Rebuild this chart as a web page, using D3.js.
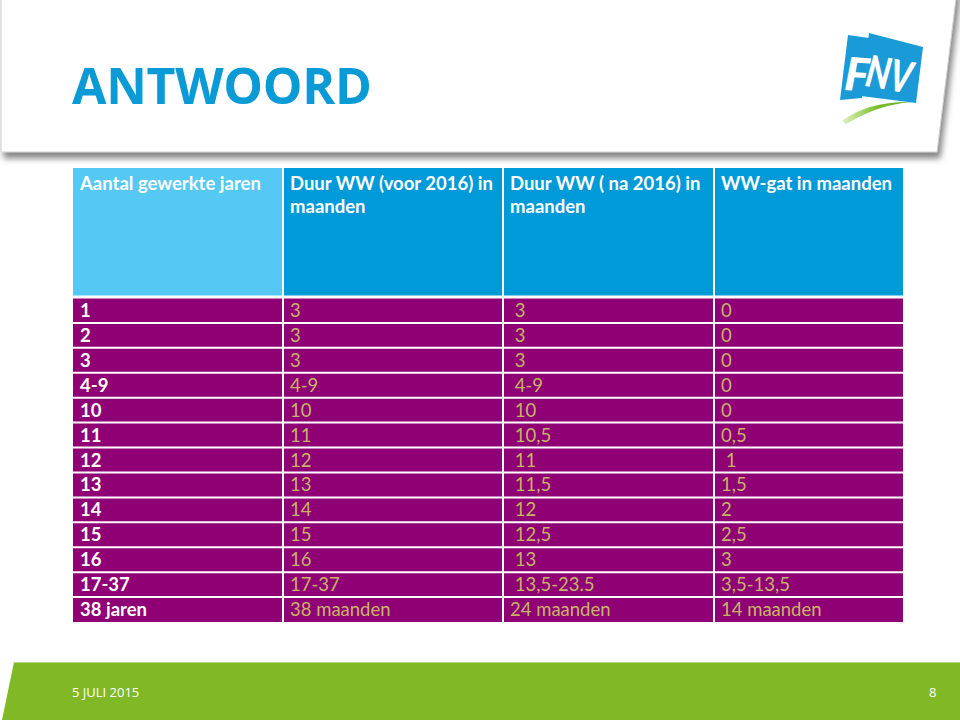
<!DOCTYPE html>
<html><head><meta charset="utf-8">
<script src="https://cdn.jsdelivr.net/npm/d3@7"></script>
<style>
html,body{margin:0;padding:0;background:#fff;}
svg{display:block;font-family:Lato,"Open Sans",sans-serif;}
</style></head>
<body>
<script>
// ---- data ----
const title = "ANTWOORD";
const headers = [
  ["Aantal gewerkte jaren"],
  ["Duur WW (voor 2016) in", "maanden"],
  ["Duur WW ( na 2016) in", "maanden"],
  ["WW-gat in maanden"]
];
const years   = ["1","2","3","4-9","10","11","12","13","14","15","16","17-37","38 jaren"];
const durBefore = ["3","3","3","4-9","10","11","12","13","14","15","16","17-37","38 maanden"];
const durAfter  = [" 3"," 3"," 3"," 4-9"," 10"," 10,5"," 11"," 11,5"," 12"," 12,5"," 13"," 13,5-23.5","24 maanden"];
const gap       = ["0","0","0","0","0","0,5"," 1","1,5","2","2,5","3","3,5-13,5","14 maanden"];
const footerDate = "5 JULI 2015";
const pageNum = "8";

const W = 960, H = 720;
const svg = d3.select("body").append("svg").attr("width", W).attr("height", H);
const defs = svg.append("defs");
const f = defs.append("filter").attr("id","sh").attr("x","-5%").attr("y","-10%").attr("width","115%").attr("height","130%");
f.append("feDropShadow").attr("dx",3).attr("dy",6).attr("stdDeviation",3).attr("flood-color","#666").attr("flood-opacity",0.8);

// top panel
svg.append("path").attr("d","M1,-10 L957,-10 L937,152 L1,152 Z")
  .attr("fill","#fff").attr("stroke","#d0d0d0").attr("stroke-width",1).attr("filter","url(#sh)");

svg.append("text").attr("x",72).attr("y",104).text(title)
  .attr("font-size",50).attr("font-weight",700).attr("fill","#0a9ad6")
  .attr("font-family","'Open Sans',Lato,sans-serif").attr("letter-spacing",-0.3);

// logo
const g = svg.append("g");
const sw = defs.append("linearGradient").attr("id","sw").attr("x1","0").attr("x2","1");
sw.append("stop").attr("offset","0").attr("stop-color","#e2f0c4");
sw.append("stop").attr("offset","0.5").attr("stop-color","#7cbf2a");
sw.append("stop").attr("offset","1").attr("stop-color","#5aa82a");
g.append("path").attr("d","M842,121 Q868,101 912,102 Q880,104 846,124 Z").attr("fill","url(#sw)");
g.append("path").attr("d","M848,35 L869,38 L862,98 L840,100 Z").attr("fill","#1b9ad8");
g.append("path").attr("d","M869,33 L923,47 L916,103 L861,96 Z").attr("fill","#1b9ad8");
g.append("text").attr("x",845).attr("y",91).text("F")
  .attr("font-size",46).attr("font-weight",900).attr("font-style","italic").attr("fill","#fff")
  .attr("transform","rotate(4,858,70) scale(1,1)");
g.append("text").attr("x",867).attr("y",90).text("NV")
  .attr("font-size",44).attr("font-weight",900).attr("font-style","italic").attr("fill","#fff")
  .attr("textLength",46).attr("lengthAdjust","spacingAndGlyphs")
  .attr("transform","rotate(10,890,70)");

// table
const colEdges = [73, 283, 503, 714, 903];
const colX = i => colEdges[i];
const colW = i => colEdges[i+1]-colEdges[i];
const headTop = 168, headBot = 296, rowTop = 298, rowBot = 622;
const y = d3.scaleBand().domain(years).range([rowTop, rowBot]);

const headFill = ["#55c8f4","#019ad8","#019ad8","#019ad8"];
const t = svg.append("g");
headers.forEach((h,i)=>{
  t.append("rect").attr("x",colX(i)).attr("y",headTop).attr("width",colW(i)).attr("height",headBot-headTop).attr("fill",headFill[i]);
  h.forEach((line,j)=>{
    t.append("text").attr("x",colX(i)+7).attr("y",190+j*23).text(line)
      .attr("fill","#fff").attr("font-size",18.5).attr("font-weight",700);
  });
});
const cols = [years, durBefore, durAfter, gap];
years.forEach((yr,r)=>{
  cols.forEach((c,i)=>{
    t.append("rect").attr("x",colX(i)).attr("y",y(yr)).attr("width",colW(i)).attr("height",y.bandwidth())
      .attr("fill","#8e0074");
    t.append("text").attr("x",colX(i)+7).attr("y",y(yr)+y.bandwidth()/2+6.5).text(c[r])
      .attr("xml:space","preserve").style("white-space","pre")
      .attr("fill", i===0?"#fff":"#c9b36a").attr("font-size",18.5)
      .attr("font-weight", i===0?700:400);
  });
});
// grid lines
years.slice(1).forEach(yr=>{
  t.append("line").attr("x1",73).attr("x2",903).attr("y1",y(yr)).attr("y2",y(yr))
    .attr("stroke","#fff").attr("stroke-width",2);
});
colEdges.slice(1,4).forEach(cx=>{
  t.append("line").attr("x1",cx).attr("x2",cx).attr("y1",headTop).attr("y2",rowBot)
    .attr("stroke","#fff").attr("stroke-width",2);
});
t.append("line").attr("x1",73).attr("x2",903).attr("y1",297).attr("y2",297).attr("stroke","#fff").attr("stroke-width",3);

// footer
svg.append("path").attr("d","M14,662 L960,662 L960,720 L2,720 Z").attr("fill","#80b925");
svg.append("line").attr("x1",14).attr("x2",960).attr("y1",662.5).attr("y2",662.5).attr("stroke","#b6db80").attr("stroke-width",1);
svg.append("text").attr("x",72).attr("y",697).text(footerDate).attr("fill","#fff").attr("font-size",13)
  .attr("font-family","'Open Sans',sans-serif");
svg.append("text").attr("x",929).attr("y",697).text(pageNum).attr("fill","#fff").attr("font-size",13)
  .attr("font-family","'Open Sans',sans-serif");
</script>
</body></html>
